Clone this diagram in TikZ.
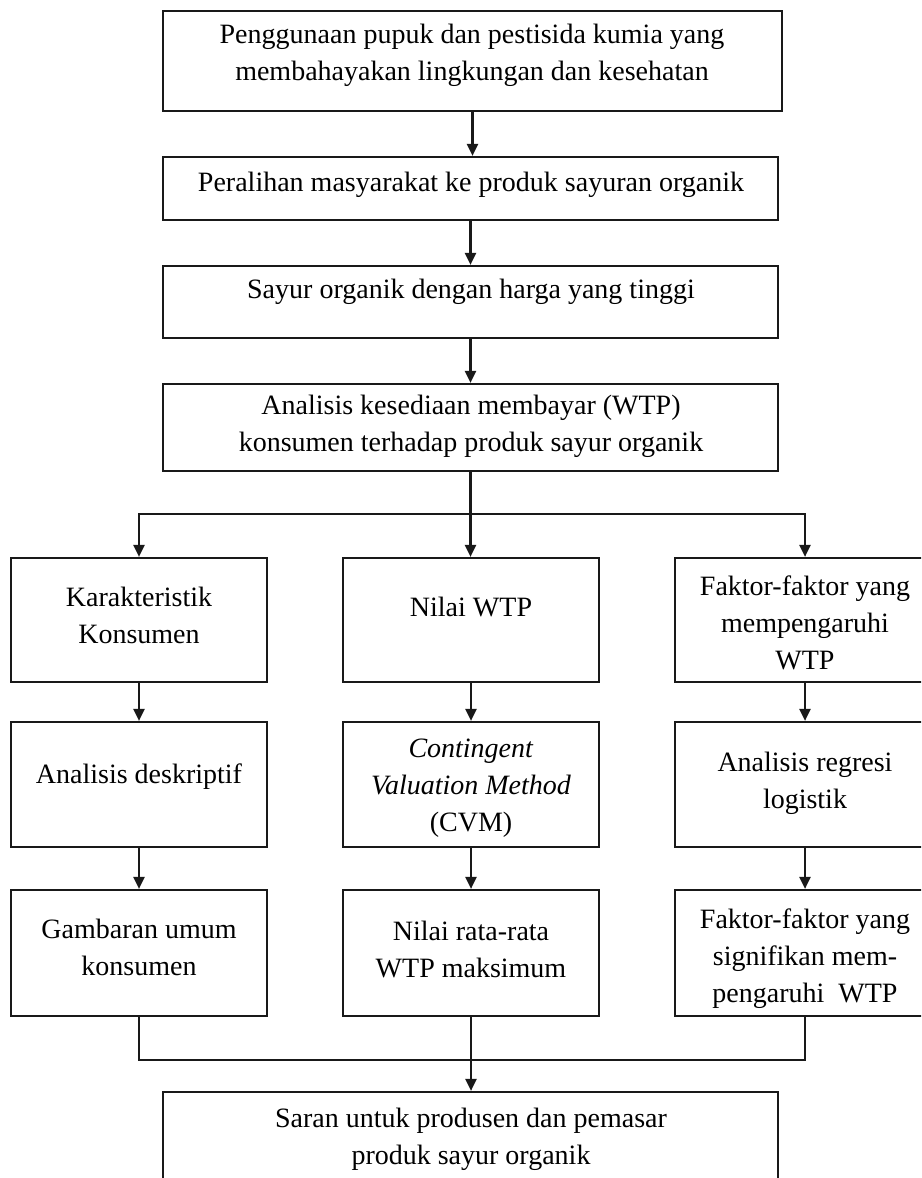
\documentclass[tikz,border=0pt]{standalone}
\usepackage{fontspec}
\setmainfont{Liberation Serif}
\usetikzlibrary{arrows.meta}
\begin{document}
\begin{tikzpicture}[x=1pt,y=-1pt,
  box/.style={draw=black!90, line width=2.2pt, inner sep=0pt},
  wide/.style={box, minimum width=615pt},
  col/.style={box, minimum width=256pt},
  txt/.style={align=center, font=\fontsize{28}{37}\selectfont, inner sep=0pt},
  arr/.style={draw=black!90, line width=2.2pt, -{Triangle[length=12pt,width=11pt]}},
  ln/.style={draw=black!90, line width=2.2pt}]
\useasboundingbox (0,0) rectangle (921,1178);
\clip (0,0) rectangle (921,1178);

% top chain
\node[box, minimum width=619pt, minimum height=100pt] (b1) at (472.5,61) {};
\node[wide, minimum height=63pt] (b2) at (470.5,188.5) {};
\node[wide, minimum height=72pt] (b3) at (470.5,302) {};
\node[wide, minimum height=87pt] (b4) at (470.5,427.5) {};

\node[txt] (t1) at (472,55) {\strut Penggunaan pupuk dan pestisida kumia yang\\\strut membahayakan lingkungan dan kesehatan};
\node[txt] (t2) at (471,184) {\strut Peralihan masyarakat ke produk sayuran organik};
\node[txt] (t3) at (471,291) {\strut Sayur organik dengan harga yang tinggi};
\node[txt] (t4) at (471,426) {\strut Analisis kesediaan membayar (WTP)\\\strut konsumen terhadap produk sayur organik};

% row 1
\node[col, minimum height=124pt] (L1) at (139,620) {};
\node[col, minimum height=124pt] (M1) at (471,620) {};
\node[box, minimum width=260pt, minimum height=124pt] (R1) at (805,620) {};
\node[txt] (tL1) at (139,618) {\strut Karakteristik\\\strut Konsumen};
\node[txt] (tM1) at (471,609) {\strut Nilai WTP};
\node[txt] (tR1) at (805,625) {\strut Faktor-faktor yang\\\strut mempengaruhi\\\strut WTP};

% row 2
\node[col, minimum height=125pt] (L2) at (139,784.5) {};
\node[col, minimum height=125pt] (M2) at (471,784.5) {};
\node[box, minimum width=260pt, minimum height=125pt] (R2) at (805,784.5) {};
\node[txt] (tL2) at (139,776) {\strut Analisis deskriptif};
\node[txt] (tM2) at (471,787) {\strut\textit{Contingent}\\\strut\textit{Valuation Method}\\\strut (CVM)};
\node[txt] (tR2) at (805,783) {\strut Analisis regresi\\\strut logistik};

% row 3
\node[col, minimum height=126pt] (L3) at (139,953) {};
\node[col, minimum height=126pt] (M3) at (471,953) {};
\node[box, minimum width=260pt, minimum height=126pt] (R3) at (805,953) {};
\node[txt] (tL3) at (139,950) {\strut Gambaran umum\\\strut konsumen};
\node[txt] (tM3) at (471,952) {\strut Nilai rata-rata\\\strut WTP maksimum};
\node[txt] (tR3) at (805,958) {\strut Faktor-faktor yang\\\strut signifikan mem-\\\strut pengaruhi\ \ WTP};

% final box (runs past the bottom edge)
\node[wide, minimum height=120pt] (F) at (470.5,1152) {};
\node[txt] (tF) at (471,1139) {\strut Saran untuk produsen dan pemasar\\\strut produk sayur organik};

% connectors
\draw[arr] (b1.south) -- (b1.south |- b2.north);
\draw[arr] (b2.south) -- (b2.south |- b3.north);
\draw[arr] (b3.south) -- (b3.south |- b4.north);

\path (b4.south) ++(0,42) coordinate (br);
\draw[arr] (b4.south) -- (b4.south |- M1.north);
\draw[arr] (br) -| (L1.north);
\draw[arr] (br) -| (R1.north);

\draw[arr] (L1.south) -- (L2.north);
\draw[arr] (M1.south) -- (M2.north);
\draw[arr] (R1.south) -- (R2.north);
\draw[arr] (L2.south) -- (L3.north);
\draw[arr] (M2.south) -- (M3.north);
\draw[arr] (R2.south) -- (R3.north);

\path (M3.south) ++(0,43) coordinate (mg);
\draw[ln] (L3.south) |- (mg) -| (R3.south);
\draw[arr] (M3.south) -- (M3.south |- F.north);
\end{tikzpicture}
\end{document}
